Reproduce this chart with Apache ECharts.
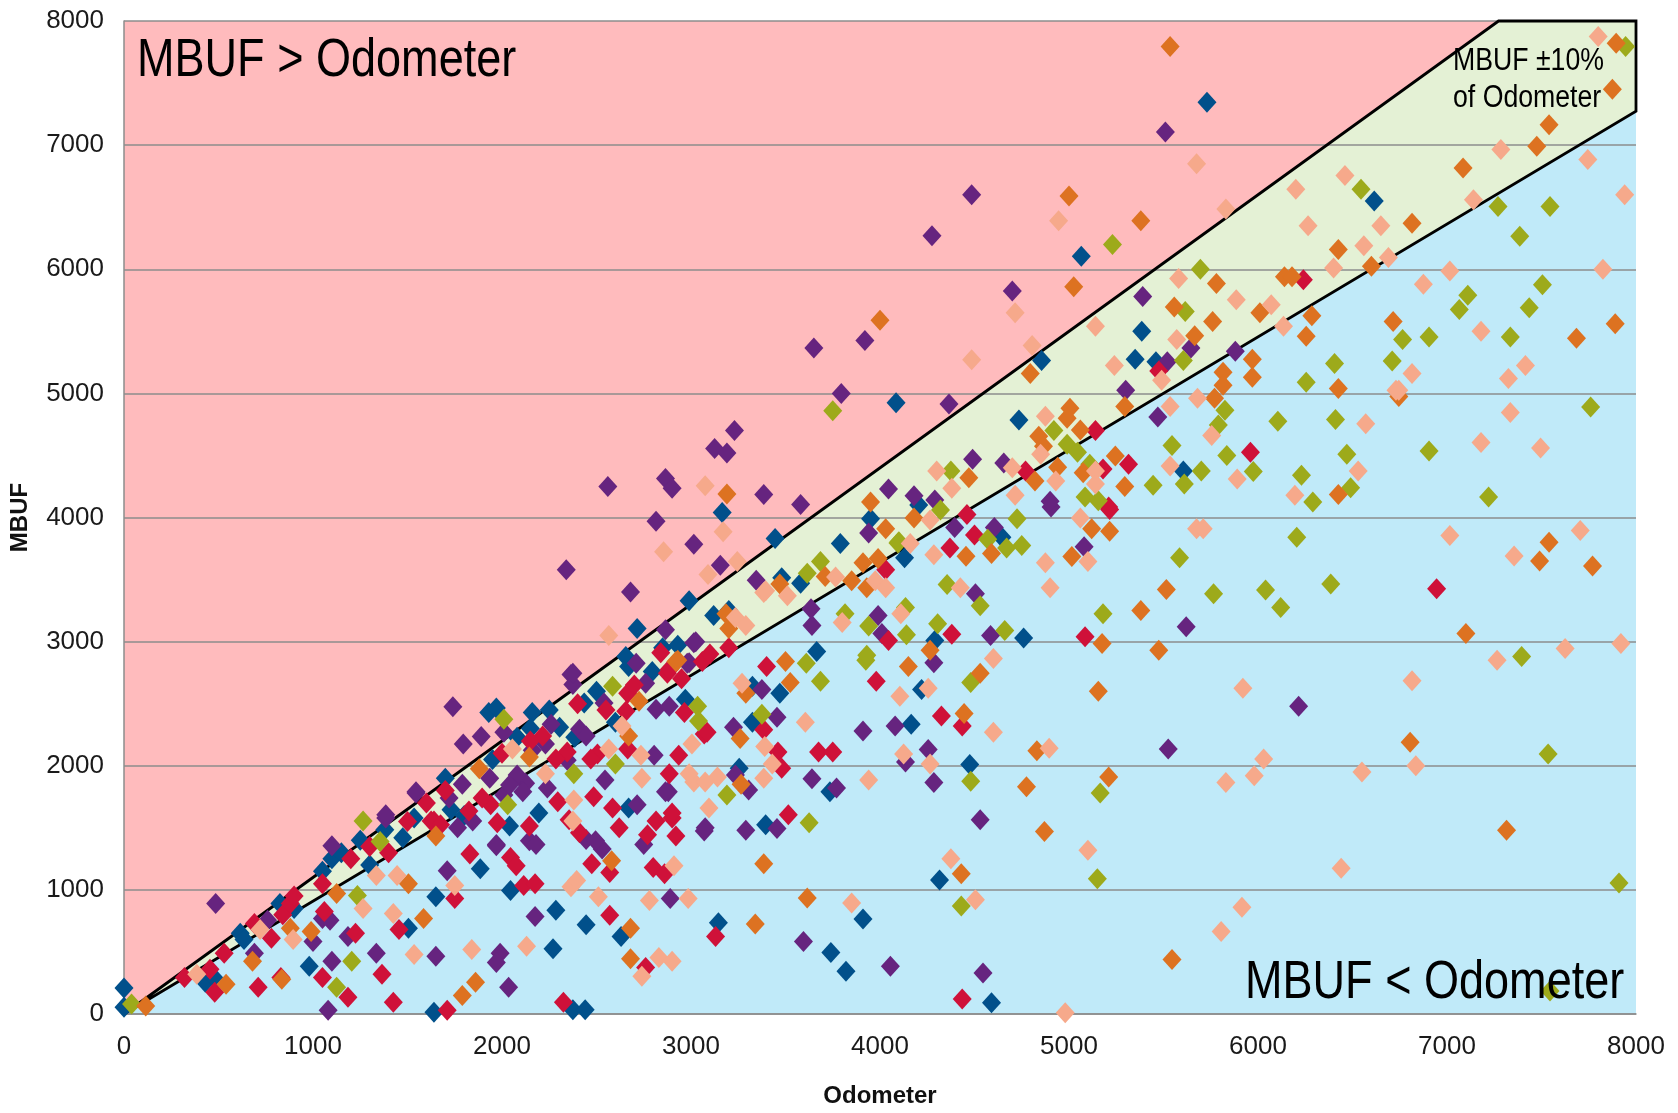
<!DOCTYPE html>
<html><head><meta charset="utf-8">
<script src="https://cdn.jsdelivr.net/npm/echarts@6/dist/echarts.min.js"></script>
<style>html,body{margin:0;padding:0;background:#fff}#c{width:1678px;height:1113px}</style>
</head><body><div id="c"></div>
<script>
const xTicks = [0,1000,2000,3000,4000,5000,6000,7000,8000];
const yTicks = [0,1000,2000,3000,4000,5000,6000,7000,8000];
const bandFactor = 1.1;
const axisMax = 8000;

const darkBlue = [[0,210],[0,55],[430,255],[475,295],[615,650],[635,600],[825,890],[980,385],[1505,690],[1640,15],[2270,525],[2285,835],[2375,35],[2440,35],[2445,720],[2630,625],[2045,995],[1650,945],[1885,1170],[1475,1420],[1535,1580],[1380,1485],[1730,1645],[1930,2430],[1970,2465],[2160,2430],[2080,2230],[2305,2310],[2435,2505],[2670,2800],[2930,2970],[3120,3210],[2795,2760],[2970,2535],[2385,2230],[2195,1620],[2040,1515],[2670,1660],[2715,3105],[2990,3330],[2655,2880],[3165,4040],[3445,3830],[3790,3790],[3480,3515],[3580,3470],[3325,2640],[3665,2920],[4085,4925],[4205,4100],[3950,3990],[4130,3675],[4290,3010],[5730,7345],[5065,6105],[4735,4785],[5385,5500],[4855,5265],[5460,5255],[5350,5275],[5605,4375],[6615,6550],[4645,3840],[4760,3030],[4220,2615],[3470,2585],[3325,2350],[3255,1980],[3395,1525],[3735,1790],[4165,2335],[4475,2010],[4315,1080],[3145,735],[3910,765],[3740,495],[3820,345],[4590,90],[1100,1250],[1150,1300],[1250,1400],[1700,1900],[1950,2050],[2250,2450],[2500,2600],[2850,2950],[3200,3250],[2600,2350],[2150,2300],[1800,1600],[1300,1200],[900,850],[1050,1150]];

const purple = [[485,890],[690,490],[760,755],[1000,585],[1050,770],[1090,755],[1080,30],[1185,625],[1100,425],[1335,490],[1650,465],[2035,215],[2175,785],[1990,490],[1970,415],[2890,930],[1710,1155],[1970,1355],[2530,1330],[2445,1405],[2750,1365],[2880,1790],[1100,1355],[1385,1580],[1545,1780],[1740,2475],[1795,2175],[1890,2235],[2365,2735],[2375,2655],[2260,2335],[2010,2270],[2410,2295],[2540,2505],[2710,2825],[3015,2990],[2980,2825],[2760,2665],[2815,2455],[2885,2480],[2805,2085],[2445,2240],[2230,2175],[2345,2045],[2160,2125],[2545,1885],[2865,1790],[2240,1820],[2125,1860],[2110,1790],[2080,1925],[2145,1395],[1970,1365],[2010,1765],[2040,1845],[1935,1900],[1845,1555],[1790,1850],[1720,1740],[1545,1790],[1765,1500],[1385,1605],[3070,1475],[2715,1685],[2495,1395],[2180,1365],[2680,3400],[2865,3095],[3650,5365],[3920,5425],[3795,5000],[4365,4915],[3230,4700],[3125,4555],[3190,4520],[2560,4250],[2865,4315],[2900,4235],[3385,4185],[3580,4105],[2815,3970],[3015,3785],[2340,3580],[3155,3615],[3345,3495],[4045,4230],[4490,4470],[4180,4175],[4290,4140],[3940,3875],[4395,3920],[4605,3920],[4505,3385],[4585,3050],[4285,2830],[4010,3065],[3990,3210],[3635,3265],[3025,3000],[2990,2830],[2375,2745],[4485,6600],[4275,6270],[4700,5825],[5390,5780],[5510,7105],[5645,5365],[5880,5340],[5520,5255],[5300,5025],[5470,4810],[4655,4440],[4905,4085],[4900,4130],[5080,3765],[3640,3130],[3375,2615],[3455,2390],[3225,2310],[3235,1925],[3305,1805],[3075,1500],[3290,1480],[3455,1495],[3640,1895],[3770,1820],[3910,2280],[4080,2320],[4135,2030],[4255,2130],[4285,1865],[5525,2135],[4530,1565],[3595,585],[4055,385],[4545,330],[5620,3120],[6215,2480]];

const crimson = [[320,295],[455,360],[480,175],[530,490],[780,610],[710,215],[690,730],[830,295],[840,800],[880,890],[1060,825],[1050,295],[1185,135],[1225,650],[1365,320],[1425,95],[1455,680],[1710,30],[2325,95],[2570,795],[2760,375],[2570,1140],[2475,1210],[2115,1035],[2175,1050],[2045,1260],[2075,1195],[1750,930],[1830,1290],[2800,1180],[2860,1130],[2920,1435],[2900,1580],[1640,1555],[2215,2240],[2665,2585],[2840,2910],[2875,2745],[3060,2840],[2655,2440],[3070,2255],[2965,2430],[2935,2085],[2665,2135],[2505,2095],[2470,2055],[2345,2110],[2285,2055],[2885,1935],[2485,1750],[2295,1710],[2355,1565],[2145,1515],[1940,1685],[1975,1540],[1895,1740],[1825,1635],[1625,1555],[1675,1525],[2815,1555],[2770,1445],[2585,1660],[2620,1500],[2410,1460],[2900,1620],[2885,2775],[3400,2800],[3980,2680],[4045,3010],[4380,3060],[4370,3755],[4500,3860],[5475,5180],[5140,4700],[5960,4525],[4770,4375],[5315,4430],[5180,4390],[5210,4085],[6240,5915],[4030,3580],[4460,4025],[5215,4065],[5085,3040],[3385,2290],[3460,2110],[3480,1980],[3085,2270],[3515,1605],[3675,2110],[3750,2110],[4325,2400],[4435,2320],[3130,625],[4435,120],[6945,3425],[1200,1250],[1300,1350],[1500,1550],[1600,1700],[1700,1800],[2000,2100],[2150,2200],[2400,2500],[2550,2450],[2700,2650],[2950,2700],[3100,2900],[3200,2950],[1050,1050],[900,950],[1400,1300]];

const olive = [[40,80],[1235,955],[1125,215],[1205,425],[1265,1555],[1355,1390],[2010,2375],[2585,2640],[2600,2015],[2380,1935],[2030,1685],[3035,2480],[3040,2360],[3750,4860],[3685,3645],[3615,3550],[4375,4375],[4095,3795],[4355,3460],[4530,3290],[4305,3145],[4140,3055],[3940,3125],[3925,2850],[3815,3225],[3685,2680],[3610,2825],[6545,6645],[5230,6200],[5695,6000],[5615,5660],[5605,5265],[6405,5240],[6710,5260],[6255,5090],[5825,4865],[6105,4775],[6410,4790],[4920,4700],[4990,4590],[5045,4525],[5790,4745],[5545,4580],[5835,4500],[6470,4510],[5110,4430],[5700,4375],[5975,4370],[6230,4340],[5445,4260],[5610,4270],[6290,4125],[6490,4240],[5085,4165],[5155,4135],[4320,4060],[4100,3805],[4570,3825],[4670,3755],[4725,3990],[4750,3775],[5585,3675],[5180,3225],[4135,3275],[4660,3090],[4480,2670],[3930,2890],[3375,2415],[3190,1765],[3625,1540],[4480,1875],[5165,1780],[5150,1090],[4430,870],[7220,4165],[6205,3840],[5765,3385],[6040,3415],[6120,3275],[6385,3465],[7395,2880],[7535,2095],[7910,1055],[7545,185],[7110,5790],[7065,5675],[7505,5875],[7435,5690],[6765,5435],[6905,5455],[7335,5455],[7760,4890],[6905,4535],[7945,7795],[7270,6505],[7545,6505],[7385,6265]];

const orange = [[115,65],[540,240],[680,425],[835,280],[880,690],[990,665],[1125,970],[1650,1435],[1505,1050],[1585,770],[1790,150],[1860,255],[2680,445],[2680,690],[2580,1235],[2145,2070],[1880,1975],[2670,2240],[2725,2520],[2920,2840],[4000,5590],[3190,4190],[3950,4125],[4030,3910],[4180,3995],[4470,4320],[4590,3710],[4455,3687],[4150,2800],[3910,3635],[3990,3670],[3525,2670],[3500,2840],[3185,3225],[3200,3105],[3470,3465],[2930,2850],[4530,2745],[5000,6590],[5380,6390],[6425,6160],[6600,6025],[5025,5860],[5780,5885],[6140,5940],[6180,5940],[5557,5695],[5760,5580],[6010,5650],[6285,5625],[5665,5465],[6255,5460],[6715,5580],[5970,5275],[4795,5160],[5815,5170],[5970,5130],[5815,5065],[6425,5040],[5005,4880],[4990,4800],[5295,4895],[5770,4960],[5060,4705],[4840,4655],[4865,4575],[4940,4405],[5245,4495],[5075,4360],[4820,4295],[5295,4250],[6425,4185],[3710,3525],[3930,3435],[3850,3490],[5120,3910],[5215,3890],[5015,3685],[5515,3420],[5380,3250],[5175,2985],[5475,2930],[5155,2600],[4265,2930],[3290,2585],[3260,2220],[3265,1850],[3385,1210],[4445,2420],[4775,1830],[4830,2120],[5210,1910],[4870,1470],[4430,1130],[3615,935],[3340,725],[5545,440],[7540,3800],[7490,3650],[7770,3610],[7100,3065],[6805,2190],[7315,1480],[7685,5445],[7890,5560],[6745,4975],[7895,7820],[7875,7450],[7540,7165],[7475,6990],[7085,6815],[6815,6370],[5535,7795]];

const salmon = [[385,320],[720,680],[895,600],[1265,850],[1425,810],[1535,480],[1840,520],[2130,545],[2740,305],[2830,455],[2900,425],[2780,915],[2985,930],[2365,1025],[2395,1075],[2510,945],[2910,1195],[1750,1035],[1335,1115],[1445,1115],[2740,1900],[3015,1870],[2055,2135],[2635,2320],[3005,2175],[2735,2085],[2565,2135],[2990,1935],[2380,1725],[2230,1935],[2375,1555],[2565,3050],[3075,4255],[3170,3885],[2855,3725],[3245,3645],[3090,3540],[4485,5270],[4300,4375],[4380,4235],[3975,3490],[4160,3790],[4285,3700],[4265,3980],[4425,3435],[4600,2865],[4110,3225],[3800,3155],[3270,2665],[3235,3195],[3290,3130],[3385,3395],[3510,3370],[5675,6850],[6460,6755],[6200,6645],[4945,6390],[5830,6485],[6265,6350],[6650,6350],[6560,6190],[6690,6095],[6400,6010],[4715,5650],[5580,5925],[5885,5755],[6070,5715],[5140,5540],[5570,5435],[6135,5540],[4805,5385],[5240,5225],[5490,5105],[6730,5025],[4875,4815],[5535,4895],[5680,4960],[6570,4755],[4850,4510],[5755,4660],[4700,4400],[6530,4375],[5140,4375],[5535,4415],[4930,4295],[5140,4270],[5890,4310],[6195,4180],[4715,4180],[3395,3410],[3765,3520],[4030,3435],[5060,3995],[5100,3645],[4875,3635],[4900,3435],[5675,3910],[4255,2625],[4105,2560],[3605,2350],[3390,2155],[3430,2015],[3385,1900],[3140,1910],[3075,1870],[3095,1660],[3940,1885],[4600,2270],[4125,2095],[4265,2015],[4895,2140],[5100,1320],[4375,1250],[3850,895],[4505,920],[4980,10],[5710,3910],[7015,3855],[7355,3690],[7705,3895],[7265,2850],[7625,2945],[7920,2985],[5920,2625],[6815,2685],[6835,2000],[6030,2055],[5980,1920],[5830,1865],[6550,1950],[6440,1175],[5915,860],[5805,665],[6875,5880],[7180,5500],[6815,5160],[6745,5025],[7325,5120],[7415,5225],[7335,4845],[7180,4605],[7495,4560],[7800,7875],[7285,6965],[7745,6885],[7140,6560],[7940,6600],[7015,5985],[7825,6000]];

const seriesDefs = [
  {name:'S1', data: darkBlue, color:'#01508B'},
  {name:'S2', data: purple, color:'#66247F'},
  {name:'S3', data: crimson, color:'#CF1139'},
  {name:'S4', data: olive, color:'#9DAA1B'},
  {name:'S5', data: orange, color:'#DD7221'},
  {name:'S6', data: salmon, color:'#F6A98B'}
];

const xCross = axisMax / bandFactor;
const regions = [
  {pts: [[0,0],[0,axisMax],[xCross,axisMax]], fill:'#FFBBBD'},
  {pts: [[0,0],[xCross,axisMax],[axisMax,axisMax],[axisMax,xCross]], fill:'#E4F1D5'},
  {pts: [[0,0],[axisMax,0],[axisMax,xCross]], fill:'#C0EAF9'}
];
const bandOutline = regions[1].pts;

const FONT = "'Liberation Sans',Arial,sans-serif";

const chart = echarts.init(document.getElementById('c'), null, {renderer:'canvas'});
const option = {
  animation: false,
  backgroundColor: '#ffffff',
  grid: {left: 121, right: 42, top: 21, bottom: 85, containLabel: false},
  xAxis: {
    type: 'value', min: xTicks[0], max: xTicks[xTicks.length-1], interval: 1000,
    name: 'Odometer', nameLocation: 'middle', nameGap: 70,
    nameTextStyle: {fontFamily: FONT, fontWeight: 'bold', fontSize: 24, color: '#111'},
    axisLine: {show: true, lineStyle: {color: '#8c8c8c', width: 1.5}},
    axisTick: {show: false},
    axisLabel: {fontFamily: FONT, fontSize: 26, color: '#1a1a1a', margin: 20, formatter: v => String(v)},
    splitLine: {show: false}
  },
  yAxis: {
    type: 'value', min: yTicks[0], max: yTicks[yTicks.length-1], interval: 1000,
    name: 'MBUF', nameLocation: 'middle', nameGap: 92, nameRotate: 90,
    nameTextStyle: {fontFamily: FONT, fontWeight: 'bold', fontSize: 24, color: '#111'},
    axisLine: {show: true, lineStyle: {color: '#8c8c8c', width: 1.5}},
    axisTick: {show: false},
    axisLabel: {fontFamily: FONT, fontSize: 26, color: '#1a1a1a', margin: 20, formatter: v => String(v)},
    splitLine: {show: true, lineStyle: {color: '#8c8c8c', width: 1.5}}
  },
  series: [
    {
      type: 'custom', z: -1, silent: true, clip: true,
      data: regions.map(() => [0, 0]),
      renderItem: function (params, api) {
        const r = regions[params.dataIndex];
        return {type: 'polygon', shape: {points: r.pts.map(p => api.coord(p))}, style: {fill: r.fill}};
      }
    },
    {
      type: 'custom', z: 1, silent: true, clip: false,
      data: [[0, 0]],
      renderItem: function (params, api) {
        return {type: 'polygon', shape: {points: bandOutline.map(p => api.coord(p))},
          style: {fill: 'none', stroke: '#000', lineWidth: 2.8, lineJoin: 'miter'}};
      }
    }
  ].concat(seriesDefs.map(s => ({
    type: 'scatter', name: s.name, data: s.data, symbol: 'diamond', symbolSize: [19, 21],
    itemStyle: {color: s.color, opacity: 1}, silent: true, z: 2
  }))),
  graphic: [
    {type: 'text', x: 137, y: 35, scaleX: 0.85, z: 100, style: {text: 'MBUF > Odometer', font: "53px " + FONT, fill: '#000', textVerticalAlign: 'top'}},
    {type: 'text', x: 1245, y: 957, scaleX: 0.85, z: 100, style: {text: 'MBUF < Odometer', font: "53px " + FONT, fill: '#000', textVerticalAlign: 'top'}},
    {type: 'text', x: 1453, y: 43, scaleX: 0.86, z: 100, style: {text: 'MBUF \u00B110%\nof Odometer', font: "31px " + FONT, lineHeight: 37, fill: '#000', textVerticalAlign: 'top'}}
  ]
};
chart.setOption(option);
</script>
</body></html>
